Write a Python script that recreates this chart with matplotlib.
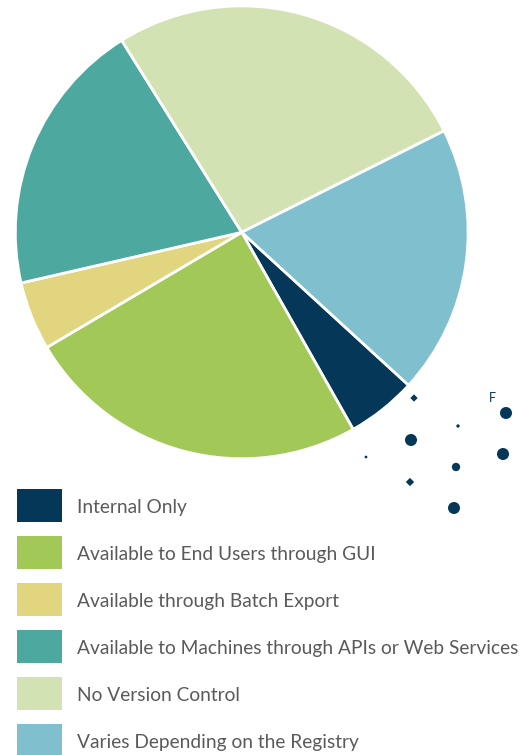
import matplotlib.pyplot as plt
from matplotlib.patches import Rectangle

# Données du graphique
labels = [
    "Internal Only",
    "Available to End Users through GUI",
    "Available through Batch Export",
    "Available to Machines through APIs or Web Services",
    "No Version Control",
    "Varies Depending on the Registry",
]
values = [5.0, 24.7, 4.9, 19.7, 26.5, 19.2]
colors = ["#053858", "#a2c857", "#e2d57f", "#4da89f", "#d3e2b2", "#80bfce"]

# Points décoratifs en bas à droite (pixels, taille, forme)
dots_x = [506, 411, 503, 454, 456, 458, 366, 414, 410]
dots_y = [413, 440, 454, 508, 467, 426, 457, 398, 482]
dots_s = [75, 75, 75, 75, 36, 6, 4, 14, 18]
dots_m = ["o", "o", "o", "o", "o", "o", "o", "D", "D"]

W, H = 521, 755
fig = plt.figure(figsize=(W / 100, H / 100), dpi=100)
fig.patch.set_facecolor("white")

# Camembert
cx, cy, r = 241.7, 232.3, 226.4
ax = fig.add_axes([(cx - r) / W, (H - cy - r) / H, 2 * r / W, 2 * r / H])
ax.pie(values, colors=colors, startangle=-42.5, counterclock=False, radius=1,
       wedgeprops=dict(edgecolor="white", linewidth=2))
ax.set_xlim(-1.0, 1.0)
ax.set_ylim(-1.0, 1.0)
ax.set_aspect("equal")
ax.axis("off")

# Calque en pixels pour la légende et les points
ov = fig.add_axes([0, 0, 1, 1])
ov.set_xlim(0, W)
ov.set_ylim(H, 0)
ov.axis("off")

for x, y, s, m in zip(dots_x, dots_y, dots_s, dots_m):
    ov.scatter([x], [y], s=s, marker=m, color="#053858", edgecolors="none")
ov.text(492, 398, "F", fontsize=9, color="#053858", ha="center", va="center",
        family="Lato")

for i, (lab, col) in enumerate(zip(labels, colors)):
    y0 = 489 + i * 47
    ov.add_patch(Rectangle((17, y0), 45, 33, color=col, linewidth=0))
    ov.text(77, y0 + 24, lab, fontsize=13.8, color="#5a5a5a", va="baseline",
            ha="left", family="Lato")

fig.savefig("out.png", dpi=100)
